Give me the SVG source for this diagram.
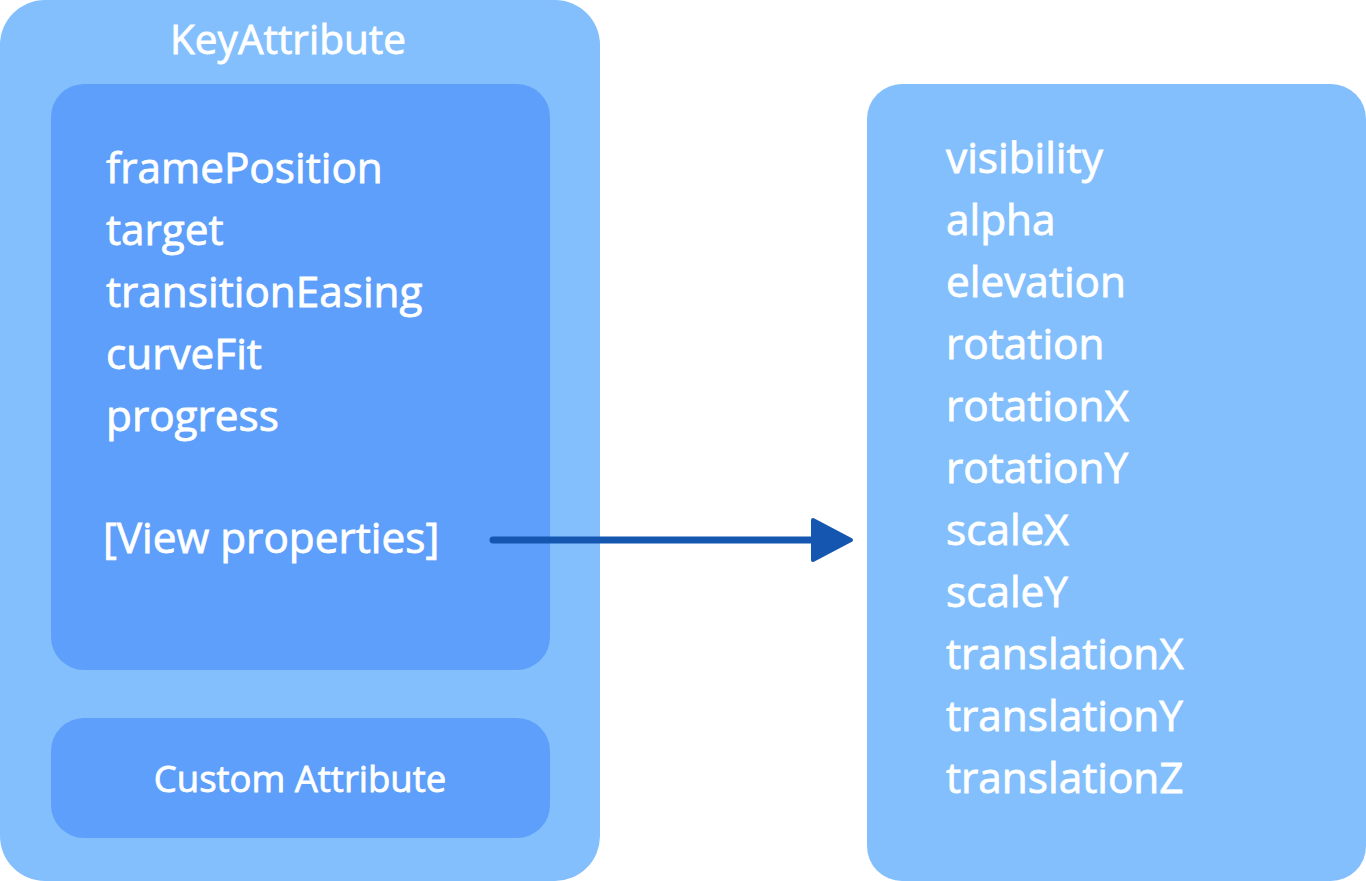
<svg xmlns="http://www.w3.org/2000/svg" width="1366" height="881" viewBox="0 0 1366 881">
<style>
.outer{fill:#83BFFC}
.inner{fill:#5D9FFA}
.t{font-family:"Open Sans","Liberation Sans",sans-serif;fill:#FFFFFF;stroke:#FFFFFF;stroke-width:0.8;font-weight:400}
.item{font-size:42.3px}
.title{font-size:40.5px;text-anchor:middle}
.cust{font-size:36.5px;text-anchor:middle}
.conn{stroke:#1557B0;stroke-width:7;stroke-linecap:round;fill:none}
.head{fill:#1557B0;stroke:#1557B0;stroke-width:4;stroke-linejoin:round}
</style>
<rect width="1366" height="881" fill="#FFFFFF"/>
<g id="keyattribute">
<rect class="outer" x="0" y="0" width="600" height="881" rx="45" ry="45"/>
<text class="t title" x="288" y="54">KeyAttribute</text>
</g>
<g id="properties">
<rect class="inner" x="51" y="84" width="499" height="586" rx="33" ry="33"/>
<text class="t item" x="106" y="183">framePosition</text>
<text class="t item" x="106" y="245">target</text>
<text class="t item" x="106" y="307">transitionEasing</text>
<text class="t item" x="106" y="369">curveFit</text>
<text class="t item" x="106" y="431">progress</text>
<text class="t item" x="103" y="553">[View properties]</text>
</g>
<g id="custom">
<rect class="inner" x="51" y="718" width="499" height="120" rx="33" ry="33"/>
<text class="t cust" x="300" y="792">Custom Attribute</text>
</g>
<g id="viewprops">
<rect class="outer" x="867" y="84" width="499" height="797" rx="35" ry="35"/>
<text class="t item" x="946" y="173">visibility</text>
<text class="t item" x="946" y="235">alpha</text>
<text class="t item" x="946" y="297">elevation</text>
<text class="t item" x="946" y="359">rotation</text>
<text class="t item" x="946" y="421">rotationX</text>
<text class="t item" x="946" y="483">rotationY</text>
<text class="t item" x="946" y="545">scaleX</text>
<text class="t item" x="946" y="607">scaleY</text>
<text class="t item" x="946" y="669">translationX</text>
<text class="t item" x="946" y="731">translationY</text>
<text class="t item" x="946" y="793">translationZ</text>
</g>
<g id="connectors">
<line class="conn" x1="493" y1="540" x2="814" y2="540"/>
<polygon class="head" points="813,520 851,540 813,560"/>
</g>
</svg>
